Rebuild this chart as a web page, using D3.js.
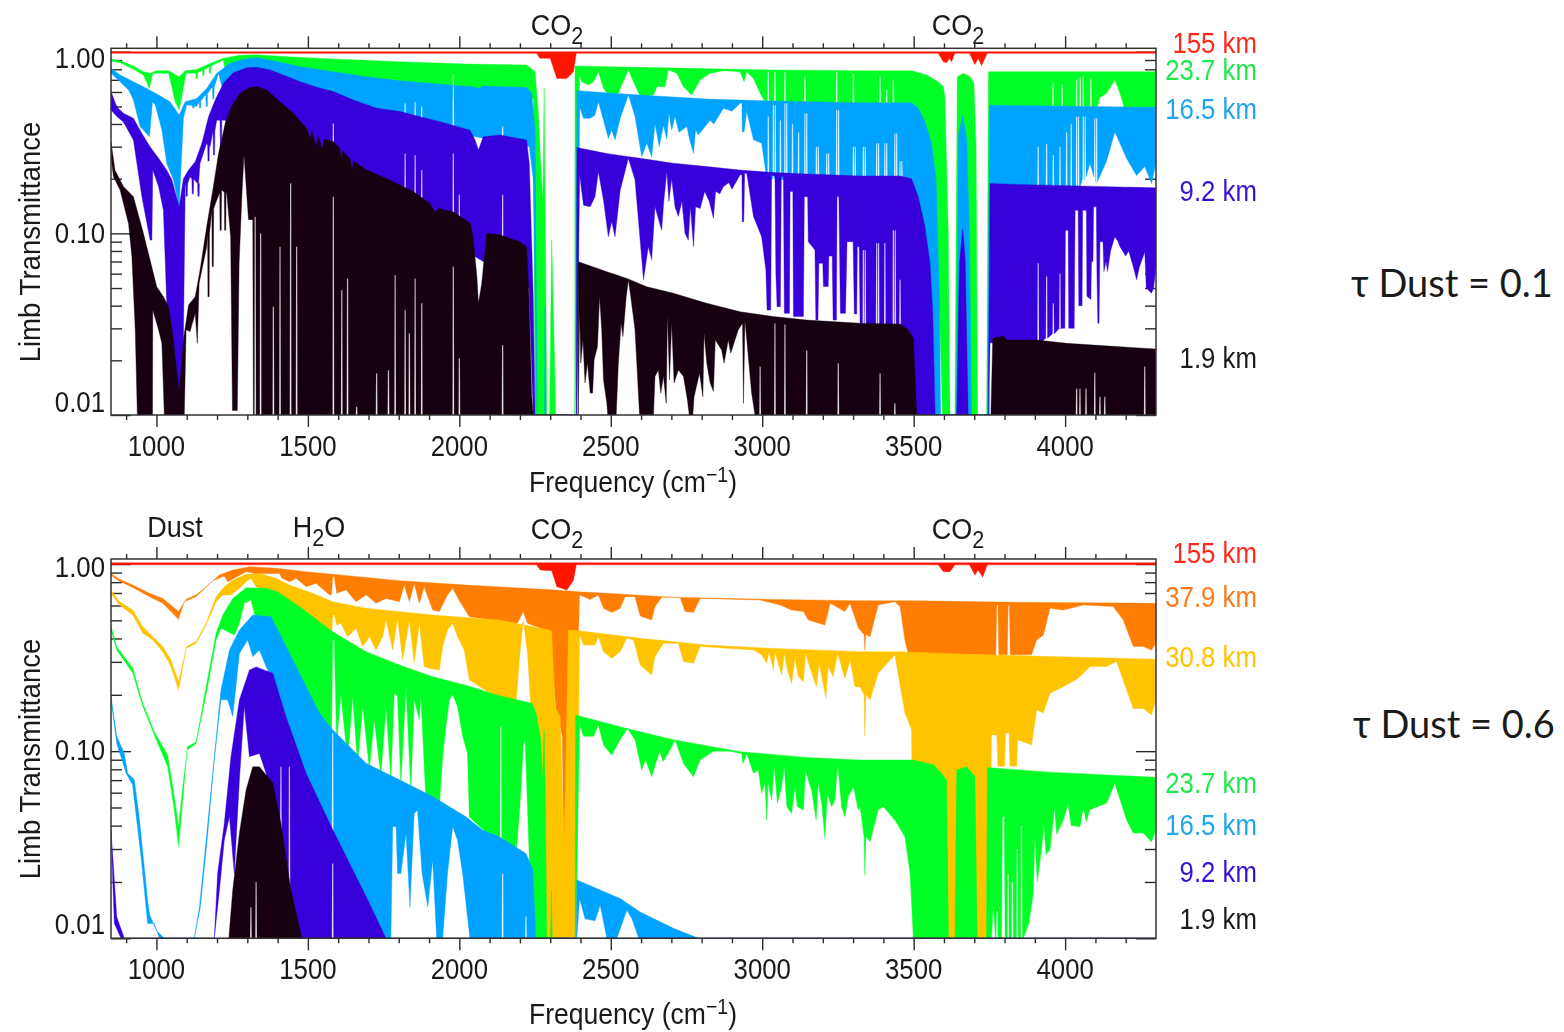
<!DOCTYPE html>
<html>
<head>
<meta charset="utf-8">
<title>Limb Transmittance</title>
<script src="https://d3js.org/d3.v7.min.js"></script>
<style>
    html, body { margin: 0; background: #fff; }
    svg { display: block; }
    text { font-family: "Liberation Sans", sans-serif; font-size: 30px; fill: #1a1a1a; }
    .note { font-family: Lato, "Open Sans", sans-serif; font-size: 38px; }
    .blurred { filter: blur(0.45px); }
    .tick line { stroke: #2b2b2b; stroke-width: 1.4px; }
    .domain { display: none; }
</style>
</head>
<body>
<script>
"use strict";

// tick values
var xMajor = [1000, 1500, 2000, 2500, 3000, 3500, 4000];
var xMinor = [900, 1100, 1200, 1300, 1400, 1600, 1700, 1800, 1900, 2100, 2200, 2300, 2400, 2600, 2700, 2800, 2900, 3100, 3200, 3300, 3400, 3600, 3700, 3800, 3900, 4100, 4200];
var yMajor = [1, 0.1, 0.01];
var yMinor = [0.9, 0.8, 0.7, 0.6, 0.5, 0.4, 0.3, 0.2, 0.09, 0.08, 0.07, 0.06, 0.05, 0.04, 0.03, 0.02];

// ---- top panel, [frequency, transmittance] ----
var p1RedTop = [[850, 1.0], [4300, 1.0]];
var p1RedLow = [[850, 0.98], [2255, 0.98], [2266, 0.92], [2300, 0.92], [2322, 0.713], [2355, 0.713], [2377, 0.776], [2386, 0.98], [3581, 0.98], [3598, 0.88], [3609, 0.87], [3618, 0.92], [3625, 0.88], [3636, 0.98], [3684, 0.98], [3702, 0.85], [3713, 0.92], [3724, 0.84], [3743, 0.98], [4300, 0.98]];

var p1GreenTop = [[850, 0.911], [880, 0.892], [924, 0.834], [957, 0.776], [979, 0.76], [999, 0.786], [1040, 0.786], [1075, 0.728], [1095, 0.786], [1133, 0.799], [1177, 0.862], [1221, 0.919], [1276, 0.955], [1331, 0.963], [1430, 0.939], [1584, 0.911], [1804, 0.881], [2024, 0.855], [2222, 0.845], [2250, 0.776], [2261, 0.458], [2268, 0.25], [2276, 0.15], [2280, 0.63], [2284, 0.1], [2289, 0.01], [2298, 0.01], [2305, 0.092], [2312, 0.03], [2318, 0.01], [2381, 0.01], [2382, 0.834], [2597, 0.82], [3037, 0.793], [3323, 0.786], [3493, 0.786], [3543, 0.745], [3581, 0.684], [3598, 0.642], [3603, 0.565], [3614, 0.104], [3620, 0.01], [3636, 0.01], [3644, 0.728], [3664, 0.76], [3686, 0.728], [3699, 0.67], [3706, 0.3], [3711, 0.01], [3741, 0.01], [3747, 0.776], [4300, 0.776]];
var p1GreenLow = [[850, 0.89], [880, 0.87], [924, 0.8], [957, 0.744], [977, 0.628], [988, 0.76], [1040, 0.76], [1062, 0.53], [1075, 0.477], [1087, 0.61], [1098, 0.76], [1133, 0.76], [1177, 0.83], [1221, 0.9], [1232, 0.7], [1260, 0.6], [2244, 0.55], [2250, 0.01], [2382, 0.01], [2397, 0.744], [2404, 0.684], [2426, 0.656], [2443, 0.684], [2459, 0.776], [2476, 0.628], [2498, 0.565], [2525, 0.588], [2536, 0.656], [2558, 0.793], [2580, 0.656], [2597, 0.565], [2641, 0.577], [2652, 0.642], [2679, 0.642], [2690, 0.793], [2718, 0.76], [2740, 0.642], [2767, 0.577], [2795, 0.698], [2828, 0.76], [2872, 0.786], [2927, 0.776], [2940, 0.684], [2949, 0.776], [2971, 0.713], [2993, 0.59], [3009, 0.53], [3493, 0.5], [3500, 0.45], [3540, 0.35], [3570, 0.2], [3590, 0.02], [3595, 0.01], [3747, 0.01], [3750, 0.45], [4100, 0.45], [4115, 0.56], [4137, 0.59], [4164, 0.698], [4175, 0.63], [4190, 0.53], [4200, 0.45], [4300, 0.45]];
var p1GreenSpikes = [[1133, 0.71], [1155, 0.74], [1177, 0.76], [1980, 0.75], [3020, 0.776], [3042, 0.776], [3075, 0.776], [3141, 0.728], [3246, 0.776], [3301, 0.76], [3389, 0.728], [3411, 0.615], [3433, 0.698], [3960, 0.68], [3990, 0.66], [4038, 0.7], [4050, 0.72], [4060, 0.74], [4085, 0.71]];

var p1BlueTop = [[850, 0.81], [880, 0.745], [924, 0.684], [968, 0.628], [1007, 0.577], [1045, 0.53], [1075, 0.448], [1095, 0.53], [1133, 0.553], [1166, 0.628], [1199, 0.76], [1243, 0.863], [1287, 0.91], [1331, 0.927], [1386, 0.892], [1474, 0.827], [1584, 0.776], [1694, 0.728], [1804, 0.692], [1969, 0.656], [2046, 0.642], [2063, 0.628], [2079, 0.647], [2222, 0.636], [2239, 0.59], [2250, 0.37], [2257, 0.01], [2281, 0.01], [2283, 0.04], [2285, 0.01], [2386, 0.01], [2388, 0.61], [2597, 0.577], [2817, 0.549], [3037, 0.535], [3323, 0.524], [3493, 0.524], [3515, 0.488], [3537, 0.412], [3559, 0.313], [3574, 0.197], [3585, 0.0448], [3589, 0.01], [3640, 0.01], [3648, 0.35], [3662, 0.448], [3675, 0.326], [3684, 0.104], [3691, 0.01], [3744, 0.01], [3750, 0.508], [4300, 0.494]];
var p1BlueLow = [[850, 0.76], [880, 0.684], [908, 0.615], [924, 0.542], [946, 0.387], [977, 0.34], [987, 0.53], [996, 0.51], [1018, 0.37], [1034, 0.243], [1056, 0.197], [1075, 0.14], [1089, 0.429], [1100, 0.51], [1133, 0.5], [1144, 0.53], [1166, 0.58], [1194, 0.66], [1205, 0.76], [1221, 0.6], [2231, 0.3], [2244, 0.2], [2257, 0.01], [2388, 0.01], [2397, 0.498], [2410, 0.43], [2432, 0.43], [2448, 0.448], [2459, 0.53], [2476, 0.42], [2492, 0.333], [2503, 0.37], [2514, 0.326], [2531, 0.43], [2558, 0.577], [2580, 0.44], [2602, 0.264], [2619, 0.313], [2635, 0.264], [2646, 0.4], [2652, 0.355], [2660, 0.3], [2674, 0.394], [2685, 0.33], [2692, 0.46], [2701, 0.37], [2712, 0.44], [2725, 0.36], [2751, 0.387], [2760, 0.33], [2773, 0.275], [2780, 0.37], [2789, 0.348], [2828, 0.42], [2840, 0.4], [2872, 0.488], [2900, 0.47], [2927, 0.52], [2933, 0.52], [2934, 0.363], [2940, 0.363], [2949, 0.468], [2971, 0.328], [2998, 0.313], [3015, 0.2], [3200, 0.19], [3493, 0.19], [3515, 0.14], [3537, 0.1], [3554, 0.06], [3563, 0.03], [3571, 0.01], [3750, 0.01], [3752, 0.17], [4040, 0.17], [4082, 0.243], [4105, 0.19], [4137, 0.25], [4164, 0.361], [4181, 0.313], [4203, 0.258], [4236, 0.208], [4263, 0.233], [4285, 0.188], [4300, 0.243]];
var p1BlueSpikes = [[1122, 0.49], [1144, 0.49], [1166, 0.5], [1188, 0.55], [1584, 0.64], [1821, 0.52], [1854, 0.53], [1876, 0.5], [1980, 0.655], [2143, 0.387], [3020, 0.44], [3037, 0.508], [3043, 0.508], [3060, 0.42], [3075, 0.52], [3081, 0.52], [3100, 0.4], [3120, 0.36], [3141, 0.458], [3147, 0.458], [3179, 0.3], [3185, 0.3], [3213, 0.275], [3219, 0.275], [3246, 0.477], [3252, 0.477], [3301, 0.3], [3307, 0.3], [3334, 0.3], [3340, 0.3], [3378, 0.313], [3384, 0.313], [3405, 0.313], [3411, 0.313], [3438, 0.355], [3444, 0.355], [3455, 0.25], [3461, 0.25], [3911, 0.3], [3939, 0.31], [3961, 0.27], [3983, 0.3], [4005, 0.36], [4020, 0.4], [4038, 0.44], [4044, 0.44], [4060, 0.44], [4066, 0.44], [4098, 0.43], [4104, 0.43]];

var p1VioletTop = [[850, 0.603], [869, 0.498], [891, 0.458], [924, 0.43], [952, 0.355], [979, 0.3], [1007, 0.259], [1034, 0.223], [1051, 0.197], [1075, 0.14], [1089, 0.2], [1106, 0.223], [1128, 0.248], [1150, 0.313], [1172, 0.439], [1194, 0.542], [1221, 0.67], [1254, 0.766], [1298, 0.816], [1331, 0.82], [1375, 0.793], [1419, 0.745], [1474, 0.684], [1529, 0.637], [1584, 0.603], [1650, 0.542], [1727, 0.488], [1804, 0.468], [1870, 0.439], [1936, 0.412], [2035, 0.37], [2052, 0.326], [2063, 0.288], [2079, 0.34], [2134, 0.348], [2222, 0.326], [2231, 0.243], [2244, 0.0448], [2250, 0.01], [2386, 0.01], [2388, 0.297], [2487, 0.275], [2597, 0.259], [2707, 0.243], [2817, 0.233], [2927, 0.223], [3037, 0.216], [3147, 0.212], [3323, 0.207], [3455, 0.207], [3493, 0.2], [3515, 0.159], [3537, 0.109], [3554, 0.0684], [3563, 0.0363], [3571, 0.01], [3642, 0.01], [3651, 0.0684], [3662, 0.106], [3670, 0.072], [3680, 0.01], [3746, 0.01], [3752, 0.188], [3840, 0.186], [4300, 0.178]];
var p1VioletLow = [[850, 0.477], [869, 0.44], [891, 0.41], [924, 0.326], [952, 0.159], [979, 0.0918], [985, 0.0918], [988, 0.223], [1007, 0.181], [1023, 0.134], [1034, 0.0412], [1075, 0.01], [1089, 0.025], [1095, 0.181], [1111, 0.205], [1139, 0.188], [1144, 0.243], [1166, 0.313], [1177, 0.3], [1199, 0.42], [1227, 0.42], [1250, 0.4], [2230, 0.05], [2244, 0.01], [2388, 0.01], [2397, 0.21], [2410, 0.143], [2432, 0.14], [2448, 0.159], [2459, 0.218], [2476, 0.152], [2492, 0.0957], [2503, 0.116], [2514, 0.0957], [2531, 0.172], [2558, 0.259], [2580, 0.197], [2608, 0.0555], [2624, 0.0845], [2635, 0.0716], [2646, 0.14], [2655, 0.124], [2668, 0.104], [2675, 0.15], [2685, 0.218], [2692, 0.15], [2701, 0.2], [2712, 0.14], [2723, 0.124], [2735, 0.15], [2745, 0.1], [2756, 0.0918], [2763, 0.14], [2773, 0.0845], [2780, 0.14], [2795, 0.137], [2810, 0.17], [2825, 0.15], [2839, 0.121], [2846, 0.17], [2860, 0.165], [2872, 0.181], [2890, 0.19], [2900, 0.175], [2927, 0.21], [2933, 0.21], [2934, 0.116], [2939, 0.116], [2942, 0.214], [2949, 0.214], [2971, 0.124], [2998, 0.0957], [3012, 0.0628], [3016, 0.0378], [3028, 0.0378], [3031, 0.21], [3042, 0.205], [3045, 0.06], [3049, 0.0395], [3060, 0.0395], [3063, 0.205], [3070, 0.205], [3073, 0.0363], [3090, 0.0363], [3092, 0.17], [3101, 0.17], [3103, 0.0348], [3136, 0.0348], [3139, 0.159], [3150, 0.159], [3152, 0.09], [3174, 0.081], [3177, 0.0333], [3184, 0.0333], [3187, 0.0684], [3200, 0.0684], [3202, 0.051], [3218, 0.051], [3220, 0.075], [3231, 0.075], [3234, 0.0333], [3245, 0.0333], [3247, 0.159], [3253, 0.159], [3258, 0.0363], [3275, 0.0363], [3280, 0.09], [3286, 0.09], [3300, 0.09], [3304, 0.036], [3312, 0.036], [3314, 0.0845], [3320, 0.0845], [3323, 0.032], [3455, 0.03], [3490, 0.02], [3505, 0.01], [3746, 0.01], [3752, 0.025], [3900, 0.024], [3985, 0.03], [3999, 0.03], [4001, 0.104], [4010, 0.104], [4012, 0.03], [4030, 0.03], [4033, 0.134], [4043, 0.134], [4045, 0.04], [4056, 0.04], [4058, 0.134], [4070, 0.134], [4072, 0.045], [4085, 0.0433], [4087, 0.07], [4092, 0.07], [4094, 0.14], [4103, 0.14], [4105, 0.06], [4108, 0.032], [4112, 0.032], [4115, 0.09], [4125, 0.09], [4128, 0.0616], [4135, 0.07], [4140, 0.0616], [4150, 0.08], [4164, 0.0957], [4175, 0.09], [4181, 0.0845], [4200, 0.075], [4210, 0.08], [4225, 0.0654], [4236, 0.0555], [4245, 0.065], [4263, 0.079], [4268, 0.05], [4285, 0.0468], [4292, 0.05], [4300, 0.0654]];
var p1VioletSpikes = [[1100, 0.16], [1120, 0.165], [1139, 0.16], [1172, 0.25], [1190, 0.27], [1213, 0.3], [1232, 0.29], [1290, 0.44], [1584, 0.403], [1821, 0.275], [1854, 0.27], [1876, 0.223], [1980, 0.275], [2000, 0.163], [2143, 0.163], [3334, 0.081], [3340, 0.081], [3378, 0.0885], [3384, 0.0885], [3405, 0.0885], [3433, 0.104], [3439, 0.104], [3455, 0.0555], [3911, 0.0684], [3939, 0.058], [3961, 0.0412], [3983, 0.06]];

var p1BlackTop = [[850, 0.32], [863, 0.223], [891, 0.181], [924, 0.159], [957, 0.1], [979, 0.0713], [1001, 0.0508], [1023, 0.0448], [1040, 0.0395], [1056, 0.0259], [1075, 0.0132], [1089, 0.0259], [1106, 0.0403], [1128, 0.0448], [1144, 0.0628], [1166, 0.109], [1188, 0.181], [1205, 0.275], [1227, 0.403], [1249, 0.508], [1276, 0.59], [1309, 0.636], [1331, 0.642], [1364, 0.615], [1408, 0.53], [1452, 0.458], [1496, 0.378], [1507, 0.33], [1512, 0.37], [1528, 0.3], [1533, 0.345], [1548, 0.29], [1553, 0.33], [1584, 0.32], [1605, 0.295], [1610, 0.25], [1615, 0.285], [1640, 0.255], [1646, 0.225], [1651, 0.25], [1694, 0.223], [1760, 0.2], [1848, 0.17], [1903, 0.146], [1920, 0.131], [1931, 0.137], [1981, 0.131], [2036, 0.1135], [2045, 0.096], [2058, 0.0577], [2063, 0.0412], [2074, 0.053], [2090, 0.1], [2134, 0.098], [2200, 0.09], [2222, 0.0845], [2230, 0.0448], [2239, 0.0126], [2244, 0.01], [2392, 0.01], [2393, 0.0698], [2487, 0.0615], [2553, 0.0565], [2619, 0.0508], [2707, 0.0468], [2817, 0.0412], [2927, 0.037], [3037, 0.0348], [3147, 0.0333], [3323, 0.032], [3455, 0.0317], [3482, 0.0294], [3499, 0.0264], [3510, 0.01], [3755, 0.01], [3761, 0.0264], [3796, 0.0272], [3807, 0.0259], [3906, 0.0259], [4005, 0.0248], [4170, 0.0238], [4300, 0.0231]];
var p1BlackLow = [[850, 0.264], [858, 0.205], [880, 0.173], [908, 0.113], [919, 0.0743], [930, 0.0295], [937, 0.01], [987, 0.01], [988, 0.0378], [1007, 0.0295], [1018, 0.0248], [1026, 0.01], [1092, 0.01], [1098, 0.0295], [1111, 0.0288], [1128, 0.0363], [1135, 0.0248], [1141, 0.0532], [1166, 0.0845], [1183, 0.134], [1199, 0.152], [1216, 0.173], [1232, 0.166], [1245, 0.0957], [1251, 0.0106], [1267, 0.0106], [1273, 0.0684], [1282, 0.159], [1289, 0.27], [1304, 0.119], [1318, 0.119], [1320, 0.01], [2393, 0.01], [2397, 0.0378], [2401, 0.0193], [2408, 0.0259], [2415, 0.015], [2423, 0.0193], [2432, 0.0132], [2440, 0.0132], [2445, 0.0201], [2456, 0.0238], [2463, 0.0448], [2470, 0.0295], [2476, 0.0156], [2487, 0.0116], [2490, 0.01], [2518, 0.01], [2525, 0.0193], [2534, 0.032], [2540, 0.027], [2551, 0.0448], [2558, 0.0555], [2566, 0.0448], [2580, 0.0295], [2595, 0.01], [2641, 0.01], [2646, 0.0163], [2657, 0.0177], [2665, 0.0132], [2674, 0.0163], [2683, 0.0116], [2687, 0.0355], [2694, 0.0156], [2701, 0.032], [2709, 0.015], [2723, 0.0177], [2740, 0.0163], [2753, 0.0121], [2759, 0.01], [2771, 0.01], [2775, 0.0126], [2793, 0.017], [2804, 0.0126], [2808, 0.0282], [2817, 0.0193], [2828, 0.015], [2839, 0.0135], [2845, 0.0259], [2866, 0.0228], [2874, 0.0193], [2888, 0.0259], [2896, 0.0219], [2921, 0.0295], [2935, 0.032], [2938, 0.0116], [2943, 0.0333], [2954, 0.021], [2965, 0.0132], [2976, 0.01], [4300, 0.01]];
var p1BlackSpikes = [[1172, 0.0448], [1186, 0.0656], [1212, 0.104], [1227, 0.104], [1326, 0.1235], [1344, 0.1], [1386, 0.0395], [1408, 0.0845], [1443, 0.1885], [1463, 0.0845], [1584, 0.159], [1612, 0.0488], [1631, 0.0565], [1661, 0.0111], [1727, 0.017], [1766, 0.0177], [1788, 0.059], [1821, 0.0378], [1835, 0.0282], [1854, 0.0565], [1876, 0.0412], [1980, 0.0656], [2000, 0.0205], [2143, 0.0243], [2993, 0.0185], [3042, 0.032], [3075, 0.0315], [3147, 0.0227], [3251, 0.0193], [3389, 0.017], [3438, 0.0116], [4038, 0.014], [4049, 0.014], [4069, 0.014], [4098, 0.0171], [4115, 0.0126], [4131, 0.0126], [4263, 0.0185]];

// ---- bottom panel ----
var p2RedTop = [[850, 1.015], [4300, 1.015]];
var p2RedLow = [[850, 0.99], [2255, 0.99], [2267, 0.93], [2305, 0.92], [2322, 0.757], [2355, 0.726], [2377, 0.82], [2386, 0.99], [3581, 0.99], [3598, 0.91], [3620, 0.91], [3636, 0.99], [3684, 0.99], [3702, 0.873], [3713, 0.93], [3728, 0.85], [3743, 0.99], [4300, 0.99]];

var p2OrangeTop = [[850, 0.891], [878, 0.828], [922, 0.772], [977, 0.697], [1021, 0.655], [1073, 0.557], [1098, 0.648], [1131, 0.683], [1164, 0.757], [1208, 0.873], [1252, 0.929], [1307, 0.968], [1395, 0.948], [1494, 0.91], [1802, 0.815], [2022, 0.772], [2319, 0.726], [2393, 0.71], [2487, 0.697], [2707, 0.664], [3037, 0.647], [3323, 0.636], [3510, 0.636], [3840, 0.624], [4300, 0.617]];
var p2OrangeLow = [[850, 0.87], [878, 0.81], [922, 0.75], [977, 0.669], [1021, 0.617], [1073, 0.506], [1092, 0.63], [1131, 0.669], [1186, 0.815], [1224, 0.862], [1235, 0.805], [1296, 0.91], [1329, 0.891], [1406, 0.891], [1415, 0.838], [1439, 0.805], [1461, 0.838], [1494, 0.757], [1527, 0.788], [1571, 0.684], [1578, 0.684], [1582, 0.856], [1587, 0.856], [1595, 0.697], [1626, 0.726], [1659, 0.629], [1692, 0.684], [1725, 0.617], [1758, 0.655], [1802, 0.629], [1818, 0.772], [1835, 0.629], [1851, 0.788], [1868, 0.617], [1884, 0.757], [1912, 0.568], [1934, 0.557], [1961, 0.684], [1978, 0.741], [2005, 0.617], [2033, 0.523], [2192, 0.482], [2211, 0.557], [2225, 0.482], [2275, 0.45], [2300, 0.4], [2320, 0.16], [2340, 0.12], [2345, 0.029], [2358, 0.029], [2366, 0.4], [2393, 0.4], [2397, 0.683], [2432, 0.647], [2459, 0.683], [2476, 0.58], [2503, 0.55], [2531, 0.58], [2547, 0.669], [2580, 0.669], [2597, 0.528], [2635, 0.502], [2646, 0.592], [2668, 0.664], [2729, 0.664], [2745, 0.557], [2773, 0.55], [2795, 0.655], [2993, 0.642], [3059, 0.604], [3097, 0.568], [3136, 0.557], [3152, 0.502], [3207, 0.472], [3224, 0.617], [3273, 0.557], [3290, 0.617], [3318, 0.453], [3336, 0.42], [3339, 0.347], [3342, 0.42], [3356, 0.409], [3383, 0.604], [3438, 0.629], [3455, 0.592], [3471, 0.393], [3482, 0.33], [3763, 0.327], [3771, 0.327], [3774, 0.604], [3778, 0.604], [3781, 0.327], [3809, 0.327], [3812, 0.6], [3816, 0.6], [3819, 0.327], [3889, 0.327], [3906, 0.393], [3928, 0.417], [3950, 0.58], [3994, 0.568], [4060, 0.604], [4159, 0.592], [4192, 0.502], [4225, 0.362], [4258, 0.362], [4285, 0.347], [4300, 0.377]];

var p2YellowTop = [[850, 0.726], [878, 0.629], [922, 0.568], [955, 0.462], [988, 0.409], [1021, 0.362], [1048, 0.307], [1073, 0.235], [1100, 0.364], [1131, 0.385], [1164, 0.482], [1197, 0.669], [1224, 0.757], [1252, 0.82], [1296, 0.881], [1340, 0.891], [1395, 0.838], [1439, 0.772], [1516, 0.697], [1582, 0.629], [1692, 0.58], [1912, 0.534], [2132, 0.502], [2297, 0.444], [2305, 0.435], [2316, 0.173], [2333, 0.152], [2346, 0.0302], [2360, 0.444], [2393, 0.44], [2597, 0.401], [2817, 0.369], [3037, 0.354], [3323, 0.34], [3455, 0.34], [3730, 0.327], [4300, 0.31]];
var p2YellowLow = [[850, 0.697], [878, 0.604], [922, 0.534], [955, 0.426], [988, 0.393], [1021, 0.34], [1048, 0.283], [1073, 0.212], [1098, 0.354], [1131, 0.377], [1164, 0.472], [1197, 0.629], [1219, 0.683], [1246, 0.683], [1274, 0.741], [1296, 0.805], [1312, 0.838], [1329, 0.757], [1362, 0.726], [1406, 0.592], [1472, 0.502], [1560, 0.393], [1578, 0.393], [1582, 0.534], [1587, 0.534], [1595, 0.472], [1609, 0.482], [1631, 0.409], [1659, 0.454], [1681, 0.362], [1703, 0.409], [1725, 0.347], [1747, 0.409], [1758, 0.502], [1780, 0.347], [1796, 0.513], [1813, 0.307], [1835, 0.502], [1851, 0.295], [1868, 0.482], [1884, 0.283], [1901, 0.277], [1934, 0.271], [1945, 0.362], [1961, 0.444], [1978, 0.482], [1994, 0.409], [2016, 0.347], [2033, 0.24], [2132, 0.19], [2187, 0.18], [2200, 0.333], [2211, 0.502], [2225, 0.333], [2236, 0.175], [2286, 0.01], [2386, 0.01], [2397, 0.417], [2410, 0.369], [2448, 0.369], [2459, 0.409], [2476, 0.34], [2503, 0.313], [2531, 0.34], [2553, 0.401], [2575, 0.393], [2597, 0.289], [2635, 0.255], [2646, 0.32], [2674, 0.377], [2723, 0.377], [2740, 0.301], [2773, 0.295], [2795, 0.362], [2971, 0.347], [2998, 0.327], [3015, 0.295], [3022, 0.34], [3037, 0.271], [3042, 0.34], [3064, 0.255], [3073, 0.333], [3083, 0.271], [3097, 0.23], [3108, 0.314], [3119, 0.25], [3136, 0.235], [3143, 0.333], [3158, 0.277], [3179, 0.221], [3188, 0.295], [3210, 0.192], [3218, 0.283], [3234, 0.25], [3249, 0.333], [3273, 0.245], [3290, 0.307], [3306, 0.221], [3323, 0.221], [3336, 0.2], [3339, 0.12], [3342, 0.2], [3356, 0.188], [3383, 0.261], [3438, 0.327], [3455, 0.226], [3471, 0.16], [3493, 0.13], [3499, 0.01], [3750, 0.01], [3757, 0.122], [3774, 0.122], [3778, 0.083], [3800, 0.083], [3803, 0.125], [3815, 0.125], [3818, 0.083], [3840, 0.083], [3843, 0.115], [3889, 0.108], [3906, 0.166], [3928, 0.16], [3950, 0.204], [3994, 0.221], [4043, 0.245], [4082, 0.283], [4137, 0.283], [4170, 0.301], [4203, 0.212], [4225, 0.169], [4258, 0.169], [4285, 0.156], [4300, 0.188]];

var p2GreenTop = [[850, 0.467], [869, 0.361], [922, 0.277], [955, 0.18], [993, 0.127], [1037, 0.0953], [1059, 0.0572], [1073, 0.0395], [1087, 0.0647], [1103, 0.106], [1131, 0.112], [1164, 0.221], [1197, 0.426], [1219, 0.534], [1252, 0.655], [1296, 0.747], [1362, 0.741], [1400, 0.711], [1472, 0.592], [1538, 0.492], [1582, 0.435], [1692, 0.34], [1802, 0.289], [1912, 0.25], [2022, 0.225], [2132, 0.198], [2242, 0.18], [2255, 0.156], [2269, 0.115], [2275, 0.07], [2280, 0.13], [2284, 0.06], [2289, 0.01], [2301, 0.01], [2304, 0.018], [2307, 0.01], [2382, 0.01], [2384, 0.156], [2553, 0.132], [2707, 0.115], [2927, 0.0994], [3147, 0.0926], [3323, 0.0897], [3499, 0.0897], [3565, 0.0847], [3592, 0.0761], [3609, 0.0696], [3615, 0.01], [3636, 0.01], [3642, 0.0792], [3675, 0.0825], [3702, 0.0732], [3710, 0.01], [3740, 0.01], [3743, 0.0817], [3950, 0.0772], [4300, 0.0725]];
var p2GreenLow = [[850, 0.444], [869, 0.347], [922, 0.261], [955, 0.173], [993, 0.122], [1037, 0.0826], [1059, 0.0483], [1073, 0.0309], [1085, 0.0505], [1101, 0.101], [1131, 0.11], [1168, 0.216], [1197, 0.393], [1213, 0.454], [1257, 0.417], [1274, 0.482], [1290, 0.617], [1312, 0.642], [1329, 0.502], [1356, 0.502], [1406, 0.35], [1472, 0.2], [1538, 0.14], [1571, 0.12], [1578, 0.12], [1582, 0.393], [1587, 0.393], [1595, 0.11], [1609, 0.2], [1631, 0.09], [1648, 0.196], [1664, 0.085], [1681, 0.173], [1703, 0.08], [1719, 0.147], [1741, 0.074], [1758, 0.173], [1774, 0.07], [1785, 0.204], [1796, 0.196], [1807, 0.066], [1824, 0.221], [1840, 0.06], [1851, 0.188], [1868, 0.147], [1873, 0.196], [1890, 0.053], [1906, 0.05], [1934, 0.05], [1945, 0.0934], [1956, 0.136], [1967, 0.188], [1978, 0.2], [1994, 0.173], [2011, 0.12], [2027, 0.0973], [2033, 0.0445], [2110, 0.034], [2187, 0.028], [2200, 0.0505], [2211, 0.106], [2217, 0.115], [2225, 0.0505], [2231, 0.0265], [2253, 0.01], [2384, 0.01], [2397, 0.138], [2410, 0.12], [2443, 0.12], [2459, 0.138], [2476, 0.108], [2503, 0.0953], [2531, 0.115], [2555, 0.132], [2580, 0.115], [2602, 0.0793], [2615, 0.09], [2635, 0.073], [2652, 0.0897], [2662, 0.1], [2672, 0.088], [2690, 0.0973], [2712, 0.115], [2740, 0.0859], [2773, 0.073], [2795, 0.0897], [2839, 0.1], [2894, 0.1], [2932, 0.097], [2936, 0.0859], [2949, 0.097], [2971, 0.0761], [2987, 0.0793], [2998, 0.0595], [3009, 0.0673], [3015, 0.0428], [3019, 0.0673], [3031, 0.0548], [3040, 0.0826], [3050, 0.0526], [3064, 0.0646], [3073, 0.0826], [3081, 0.0505], [3097, 0.0465], [3108, 0.0646], [3116, 0.0505], [3136, 0.0485], [3143, 0.0793], [3152, 0.0701], [3163, 0.062], [3178, 0.0428], [3185, 0.0673], [3196, 0.0526], [3207, 0.0342], [3215, 0.0595], [3229, 0.0505], [3240, 0.0548], [3249, 0.0861], [3262, 0.0505], [3273, 0.0446], [3284, 0.0571], [3301, 0.0646], [3317, 0.0485], [3323, 0.0505], [3336, 0.035], [3339, 0.0217], [3342, 0.035], [3356, 0.0328], [3383, 0.0486], [3400, 0.0505], [3438, 0.0428], [3471, 0.0349], [3488, 0.0222], [3499, 0.01], [3757, 0.01], [3763, 0.0154], [3770, 0.01], [3790, 0.01], [3793, 0.0446], [3799, 0.0446], [3802, 0.01], [3862, 0.01], [3880, 0.012], [3895, 0.0174], [3900, 0.035], [3908, 0.02], [3922, 0.0297], [3930, 0.04], [3937, 0.028], [3950, 0.0297], [3965, 0.05], [3972, 0.036], [3994, 0.0428], [4010, 0.052], [4020, 0.04], [4049, 0.0395], [4060, 0.05], [4070, 0.042], [4082, 0.0486], [4137, 0.0528], [4164, 0.0672], [4203, 0.0428], [4225, 0.0365], [4258, 0.0365], [4285, 0.0327], [4300, 0.0379]];
var p2GreenSpikes = [[2137, 0.136], [3775, 0.014], [3812, 0.022], [3826, 0.02], [3842, 0.03], [3856, 0.04]];

var p2BlueTop = [[850, 0.196], [869, 0.12], [894, 0.0973], [905, 0.0761], [927, 0.0703], [943, 0.0446], [972, 0.0154], [978, 0.0133], [1000, 0.011], [1026, 0.01], [1125, 0.01], [1142, 0.0147], [1164, 0.0335], [1191, 0.0934], [1213, 0.212], [1241, 0.347], [1274, 0.444], [1318, 0.534], [1378, 0.523], [1406, 0.426], [1472, 0.261], [1538, 0.16], [1582, 0.13], [1692, 0.0862], [1802, 0.0703], [1912, 0.0572], [2022, 0.0446], [2077, 0.0378], [2132, 0.0349], [2220, 0.0284], [2242, 0.0235], [2253, 0.01], [2386, 0.01], [2388, 0.0205], [2531, 0.0163], [2597, 0.0138], [2707, 0.0113], [2790, 0.01], [4300, 0.01]];
var p2BlueLow = [[850, 0.188], [869, 0.11], [900, 0.0761], [921, 0.0661], [949, 0.0273], [971, 0.012], [993, 0.012], [1010, 0.01], [1125, 0.01], [1145, 0.0147], [1167, 0.0328], [1191, 0.0897], [1213, 0.188], [1235, 0.188], [1252, 0.153], [1274, 0.333], [1301, 0.393], [1318, 0.32], [1340, 0.347], [1362, 0.283], [1406, 0.2], [1428, 0.14], [1494, 0.07], [1582, 0.036], [1692, 0.016], [1758, 0.01], [1774, 0.01], [1780, 0.0395], [1791, 0.0395], [1796, 0.0222], [1807, 0.0222], [1824, 0.0364], [1837, 0.0147], [1851, 0.0465], [1862, 0.0485], [1877, 0.0222], [1896, 0.0147], [1912, 0.0262], [1925, 0.01], [1945, 0.01], [1961, 0.0222], [1978, 0.0395], [1994, 0.0335], [2011, 0.0222], [2027, 0.013], [2035, 0.01], [2388, 0.01], [2397, 0.0163], [2415, 0.0127], [2448, 0.0124], [2465, 0.015], [2487, 0.01], [2520, 0.01], [2553, 0.0141], [2570, 0.0127], [2592, 0.01], [4300, 0.01]];
var p2BlueSpikes = [[1582, 0.125], [2143, 0.0222], [2220, 0.0131]];

var p2VioletTop = [[850, 0.0381], [869, 0.013], [894, 0.01], [1191, 0.01], [1202, 0.0222], [1224, 0.0411], [1246, 0.0934], [1274, 0.188], [1307, 0.271], [1329, 0.282], [1384, 0.261], [1428, 0.152], [1494, 0.0761], [1582, 0.0381], [1692, 0.0167], [1758, 0.01], [4300, 0.01]];
var p2VioletLow = [[850, 0.0365], [861, 0.012], [883, 0.01], [1191, 0.01], [1208, 0.0181], [1224, 0.0335], [1241, 0.0446], [1257, 0.0222], [1274, 0.0703], [1290, 0.173], [1307, 0.0934], [1340, 0.0973], [1362, 0.0761], [1400, 0.04], [1450, 0.01], [4300, 0.01]];
var p2VioletSpikes = [[1411, 0.0825], [1439, 0.0825], [1582, 0.0251]];

var p2BlackTop = [[850, 0.01], [1239, 0.01], [1252, 0.0181], [1274, 0.0365], [1296, 0.062], [1318, 0.0825], [1340, 0.0825], [1384, 0.0675], [1411, 0.0411], [1444, 0.0181], [1480, 0.01], [4300, 0.01]];
var p2BlackLow = [[850, 0.01], [4300, 0.01]];
var p2BlackSpikes = [[1312, 0.0147], [1329, 0.02]];

// right hand labels
var p1Labels = ["155 km", "23.7 km", "16.5 km", "9.2 km", "1.9 km"];
var p1LabelColors = ["#ff2a1a", "#1fe84a", "#1ea6f0", "#3a10d8", "#1a1a1a"];
var p2Labels = ["155 km", "37.9 km", "30.8 km", "23.7 km", "16.5 km", "9.2 km", "1.9 km"];
var p2LabelColors = ["#ff2a1a", "#ff7a1a", "#ffc400", "#1fe84a", "#1ea6f0", "#3a10d8", "#1a1a1a"];

// series colours
var RED = "#ff1500", ORANGE = "#ff7d00", YELLOW = "#ffc400", GREEN = "#00ff26", BLUE = "#00a3ff", VIOLET = "#3700da", BLACK = "#170010";

var WIDTH = 1564, HEIGHT = 1032;
var X_LEFT = 111, X_RIGHT = 1156;
var NARROW = 0.86;

var svg = d3.select("body").append("svg")
            .attr("width", WIDTH)
            .attr("height", HEIGHT);

var chart = svg.append("g").attr("class", "blurred");

var x = d3.scaleLinear().domain([850, 4300]).range([X_LEFT, X_RIGHT]);

// the reference uses a condensed face, squeeze Liberation Sans horizontally
var addText = function(tx, ty, anchor, squeeze)
{
    return chart.append("text")
                .attr("transform", "translate(" + tx + "," + ty + ") scale(" + (squeeze || NARROW) + ",1)")
                .attr("text-anchor", anchor);
}

// push a narrow notch or dip into a lower edge
var addSpikes = function(low, spikes)
{
    var pts = low.slice();
    var bisect = d3.bisector(function(d) { return d[0]; }).left;

    (spikes || []).forEach(function(s)
    {
        var i = bisect(pts, s[0]);
        var a = pts[i - 1], b = pts[i];
        var k = (s[0] - a[0]) / (b[0] - a[0]);
        var base = Math.exp(Math.log(a[1]) + k * (Math.log(b[1]) - Math.log(a[1])));
        pts.splice(i, 0, [s[0] - 3, base], [s[0] - 2, s[1]], [s[0] + 2, s[1]], [s[0] + 3, base]);
    });

    return pts;
}

var drawPanel = function(opts)
{
    var y = d3.scaleLog().domain([0.01, 1]).range([opts.bottom, opts.one]);
    var clipId = "clip" + opts.id;

    chart.append("clipPath").attr("id", clipId)
         .append("rect")
         .attr("x", X_LEFT).attr("y", opts.top)
         .attr("width", X_RIGHT - X_LEFT).attr("height", opts.bottom - opts.top);

    // ticks go under the spectra
    var addAxis = function(axis, tx, ty)
    {
        chart.append("g").attr("transform", "translate(" + tx + "," + ty + ")").call(axis);
    }
    addAxis(d3.axisBottom(x).tickValues(xMajor).tickSize(12).tickFormat(""), 0, opts.bottom);
    addAxis(d3.axisBottom(x).tickValues(xMinor).tickSize(5).tickFormat(""), 0, opts.bottom);
    addAxis(d3.axisTop(x).tickValues(xMajor).tickSize(12).tickFormat(""), 0, opts.top);
    addAxis(d3.axisTop(x).tickValues(xMinor).tickSize(5).tickFormat(""), 0, opts.top);
    addAxis(d3.axisLeft(y).tickValues(yMajor).tickSize(-20).tickFormat(""), X_LEFT, 0);
    addAxis(d3.axisLeft(y).tickValues(yMinor).tickSize(-11).tickFormat(""), X_LEFT, 0);
    addAxis(d3.axisRight(y).tickValues(yMajor).tickSize(-20).tickFormat(""), X_RIGHT, 0);
    addAxis(d3.axisRight(y).tickValues(yMinor).tickSize(-11).tickFormat(""), X_RIGHT, 0);

    var line = d3.line()
                 .x(function(d) { return x(d[0]); })
                 .y(function(d) { return y(d[1]); });

    var marks = chart.append("g").attr("clip-path", "url(#" + clipId + ")");

    // high altitudes first, the lower ones paint over them
    opts.series.forEach(function(s)
    {
        var low = addSpikes(s.low, s.spikes);
        var outline = s.top.concat(low.slice().reverse());
        marks.append("path")
             .attr("d", line(outline) + "Z")
             .attr("fill", s.color)
             .attr("stroke", s.color)
             .attr("stroke-width", 0.4);
    });

    chart.append("rect")
         .attr("x", X_LEFT).attr("y", opts.top)
         .attr("width", X_RIGHT - X_LEFT).attr("height", opts.bottom - opts.top)
         .attr("fill", "none")
         .attr("stroke", "#333")
         .attr("stroke-width", 1.5);

    // tick labels
    xMajor.forEach(function(v)
    {
        addText(x(v), opts.bottom + 41, "middle").text(v);
    });

    yMajor.forEach(function(v, i)
    {
        addText(105, y(v) + opts.yLabelDy[i], "end").text(d3.format(".2f")(v));
    });

    chart.append("text")
         .attr("transform", "translate(40," + opts.yTitle + ") rotate(-90) scale(0.92,1)")
         .attr("text-anchor", "middle")
         .text("Limb Transmittance");

    var xTitle = addText(633, opts.bottom + opts.xTitleDy, "middle", 0.885);
    xTitle.append("tspan").text("Frequency (cm");
    xTitle.append("tspan").attr("dy", -10).style("font-size", "22px").text("\u22121");
    xTitle.append("tspan").attr("dy", 10).text(")");

    // right hand altitude labels
    opts.labels.forEach(function(t, i)
    {
        addText(1257, opts.labelY[i], "end")
            .style("fill", opts.labelColors[i])
            .text(t);
    });

    // band names above the frame
    var addBand = function(cx, base, pre, sub, post)
    {
        var t = addText(cx, base, "middle", 0.9);
        t.append("tspan").text(pre);
        if (sub)
        {
            t.append("tspan").attr("dy", 9).style("font-size", "24px").text(sub);
            t.append("tspan").attr("dy", -9).text(post);
        }
    }
    addBand(557, opts.bandY, "CO", "2", "");
    addBand(958, opts.bandY, "CO", "2", "");
    if (opts.dust)
    {
        addBand(175, opts.bandY - 2, "Dust");
        addBand(319, opts.bandY - 2, "H", "2", "O");
    }
}

drawPanel({
    id: 1, top: 48.3, one: 51.7, bottom: 415,
    yLabelDy: [16, 10, -3], yTitle: 242, xTitleDy: 77, bandY: 35,
    labels: p1Labels, labelColors: p1LabelColors, labelY: [53, 80, 119, 201, 368],
    series: [
        { color: RED, top: p1RedTop, low: p1RedLow },
        { color: GREEN, top: p1GreenTop, low: p1GreenLow, spikes: p1GreenSpikes },
        { color: BLUE, top: p1BlueTop, low: p1BlueLow, spikes: p1BlueSpikes },
        { color: VIOLET, top: p1VioletTop, low: p1VioletLow, spikes: p1VioletSpikes },
        { color: BLACK, top: p1BlackTop, low: p1BlackLow, spikes: p1BlackSpikes }
    ]
});

drawPanel({
    id: 2, top: 559, one: 564, bottom: 938.3,
    yLabelDy: [13, 9, -4], yTitle: 759, xTitleDy: 86, bandY: 539, dust: true,
    labels: p2Labels, labelColors: p2LabelColors, labelY: [563, 607, 667, 793, 835, 882, 929],
    series: [
        { color: RED, top: p2RedTop, low: p2RedLow },
        { color: ORANGE, top: p2OrangeTop, low: p2OrangeLow },
        { color: YELLOW, top: p2YellowTop, low: p2YellowLow },
        { color: GREEN, top: p2GreenTop, low: p2GreenLow, spikes: p2GreenSpikes },
        { color: BLUE, top: p2BlueTop, low: p2BlueLow, spikes: p2BlueSpikes },
        { color: VIOLET, top: p2VioletTop, low: p2VioletLow, spikes: p2VioletSpikes },
        { color: BLACK, top: p2BlackTop, low: p2BlackLow, spikes: p2BlackSpikes }
    ]
});

// notes on the right
svg.append("text").attr("class", "note").attr("x", 1351).attr("y", 297).text("\u03C4 Dust = 0.1");
svg.append("text").attr("class", "note").attr("x", 1353).attr("y", 738).text("\u03C4 Dust = 0.6");
</script>
</body>
</html>
